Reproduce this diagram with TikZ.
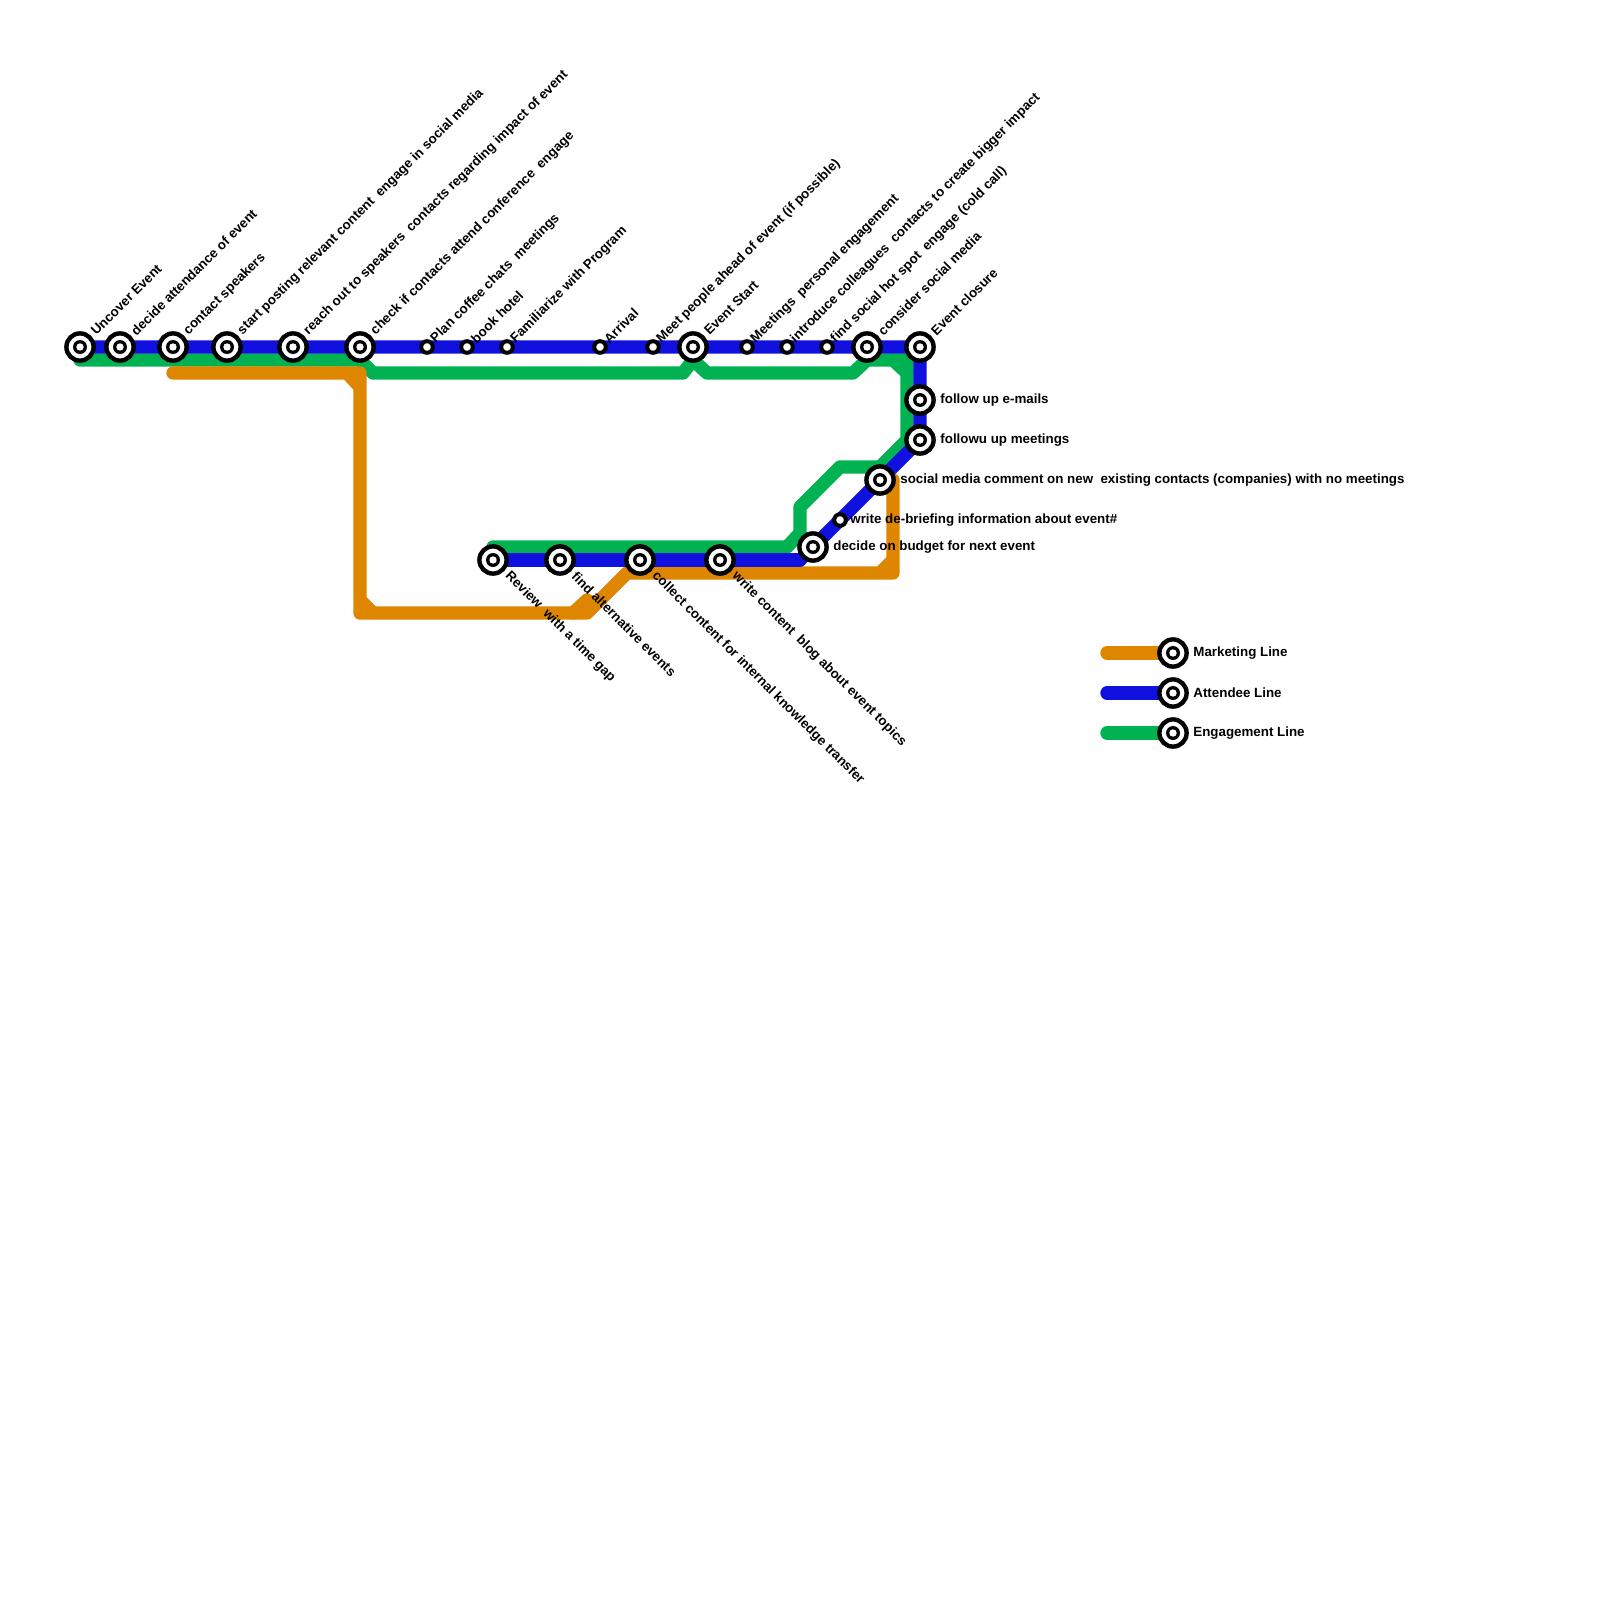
\documentclass[tikz,border=0pt]{standalone}
\usepackage{fontspec}
\setmainfont{Liberation Sans}
\definecolor{mkt}{HTML}{DF8600}
\definecolor{att}{HTML}{1010DF}
\definecolor{eng}{HTML}{00B251}
\tikzset{
  metro/.style={line width=6.67pt,line cap=round,line join=round},
  bigst/.style={circle,draw=black,fill=white,line width=2.2pt,minimum size=13.6pt,inner sep=0pt,path picture={\fill[black] (path picture bounding box.center) circle (3.5pt);\fill[white] (path picture bounding box.center) circle (1.85pt);}},
  smallst/.style={circle,draw=black,fill=white,line width=2pt,minimum size=5.8pt,inner sep=0pt},
  lab/.style={font=\fontsize{6.67}{7.5}\selectfont\bfseries,inner sep=0pt,text=black},
  labup/.style={lab,rotate=45,anchor=west},
  labdn/.style={lab,rotate=-45,anchor=west},
  labrt/.style={lab,anchor=west}
}
\begin{document}
\begin{tikzpicture}[x=0.5pt,y=-0.5pt]
\useasboundingbox (0,0) rectangle (1600,1600);
% station positions
\foreach \n/\x/\y in {a1/80/347,a2/120/347,a3/173/347,a4/227/347,a5/293/347,a6/360/347,a7/427/347,a8/467/347,a9/507/347,a10/600/347,a11/653/347,a12/693/347,a13/747/347,a14/787/347,a15/827/347,a16/867/347,a17/920/347,a18/920/400,a19/920/440,a20/880/480,a21/840/520,a22/813/547,b1/493/560,b2/560/560,b3/640/560,b4/720/560,k1/1173/653,k2/1173/693,k3/1173/733}
  {\coordinate (\n) at (\x,\y);}
% bend points
\foreach \n/\x/\y in {g0/80/360,g1/360/360,g2/373/373,g3/683/373,g4/693/360,g5/707/373,g6/853/373,g7/867/360,g8/907/360,g9/907/440,g10/880/467,g11/840/467,g12/800/507,g13/800/533,g14/787/547,g15/493/547,g16/893/360,g17/907/373,
 o0/173/373,o1/360/373,o2/360/613,o3/587/613,o4/627/573,o5/893/573,o6/893/480,o7/347/373,o8/360/387,o9/360/600,o10/373/613,o11/573/613,o12/587/600,o13/880/573,o14/893/560,
 u0/800/560,l1/1107/653,l2/1107/693,l3/1107/733}
  {\coordinate (\n) at (\x,\y);}
% engagement line
\draw[metro,eng] (g0)--(g1)--(g2)--(g3)--(g4)--(g5)--(g6)--(g7)--(g8)--(g9)--(g10)--(g11)--(g12)--(g13)--(g14)--(g15);
\draw[metro,eng] (g16)--(g17);
% attendee line
\draw[metro,att] (a1)--(a17)--(a19)--(a22)--(u0)--(b1);
% marketing line
\draw[metro,mkt] (o0)--(o1)--(o2)--(o3)--(o4)--(o5)--(o6);
\draw[metro,mkt,line cap=butt] (o7)--(o8);
\draw[metro,mkt,line cap=butt] (o9)--(o10);
\draw[metro,mkt] (o11)--(o12);
\draw[metro,mkt,line cap=butt] (o13)--(o14);
% redraw the blue bottom edge over the orange
\draw[metro,att] (u0)--(b1);
% legend
\draw[metro,mkt] (l1)--(k1);
\draw[metro,att] (l2)--(k2);
\draw[metro,eng] (l3)--(k3);
% stations
\foreach \n in {a1,a2,a3,a4,a5,a6,a12,a16,a17,a18,a19,a20,a22,b1,b2,b3,b4,k1,k2,k3}
  {\node[bigst] (st\n) at (\n) {};}
\foreach \n in {a7,a8,a9,a10,a11,a13,a14,a15,a21}
  {\node[smallst] (st\n) at (\n) {};}
% labels up
\node[labup] (t1) at ([shift={(13,-14)}]a1) {Uncover Event};
\node[labup] (t2) at ([shift={(13,-14)}]a2) {decide attendance of event};
\node[labup] (t3) at ([shift={(13,-14)}]a3) {contact speakers};
\node[labup] (t4) at ([shift={(13,-14)}]a4) {start posting relevant content~ engage in social media};
\node[labup] (t5) at ([shift={(13,-14)}]a5) {reach out to speakers~ contacts regarding impact of event};
\node[labup] (t6) at ([shift={(13,-14)}]a6) {check if contacts attend conference~ engage};
\node[labup] (t7) at ([shift={(6,-6)}]a7) {Plan coffee chats~ meetings};
\node[labup] (t8) at ([shift={(6,-6)}]a8) {book hotel};
\node[labup] (t9) at ([shift={(6,-6)}]a9) {Familiarize with Program};
\node[labup] (t10) at ([shift={(6,-6)}]a10) {Arrival};
\node[labup] (t11) at ([shift={(6,-6)}]a11) {Meet people ahead of event (if possible)};
\node[labup] (t12) at ([shift={(13,-14)}]a12) {Event Start};
\node[labup] (t13) at ([shift={(6,-6)}]a13) {Meetings~ personal engagement};
\node[labup] (t14) at ([shift={(6,-6)}]a14) {introduce colleagues~ contacts to create bigger impact};
\node[labup] (t15) at ([shift={(6,-6)}]a15) {find social hot spot~ engage (cold call)};
\node[labup] (t16) at ([shift={(13,-14)}]a16) {consider social media};
\node[labup] (t17) at ([shift={(13,-14)}]a17) {Event closure};
% labels right
\node[labrt] (t18) at ([shift={(20,0)}]a18) {follow up e-mails};
\node[labrt] (t19) at ([shift={(20,0)}]a19) {followu up meetings};
\node[labrt] (t20) at ([shift={(20,0)}]a20) {social media comment on new~ existing contacts (companies) with no meetings};
\node[labrt] (t21) at ([shift={(10,0)}]a21) {write de-briefing information about event\#};
\node[labrt] (t22) at ([shift={(20,0)}]a22) {decide on budget for next event};
% labels down
\node[labdn] (t23) at ([shift={(14,14)}]b1) {Review~ with a time gap};
\node[labdn] (t24) at ([shift={(14,14)}]b2) {find alternative events};
\node[labdn] (t25) at ([shift={(14,14)}]b3) {collect content for internal knowledge transfer};
\node[labdn] (t26) at ([shift={(14,14)}]b4) {write content~ blog about event topics};
% legend labels
\node[labrt] (t27) at ([shift={(20,0)}]k1) {Marketing Line};
\node[labrt] (t28) at ([shift={(20,0)}]k2) {Attendee Line};
\node[labrt] (t29) at ([shift={(20,0)}]k3) {Engagement Line};
\end{tikzpicture}
\end{document}
